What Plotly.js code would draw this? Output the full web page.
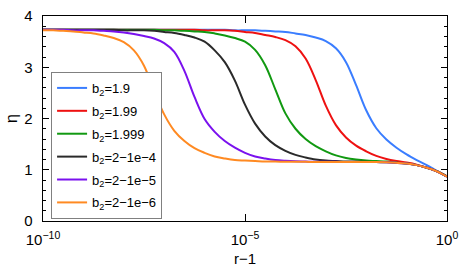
<!DOCTYPE html>
<html>
<head>
<meta charset="utf-8">
<script src="https://cdn.plot.ly/plotly-3.0.1.min.js"></script>
<style>
html,body{margin:0;padding:0;background:#fff;}
#chart{width:463px;height:278px;}
</style>
</head>
<body>
<div id="chart"></div>
<script>
// exponent grid: r-1 = 10^logR
const logR = [-10,-9.75,-9.5,-9.25,-9,-8.75,-8.5,-8.25,-8,-7.75,-7.5,-7.25,-7,-6.75,-6.5,-6.25,-6,-5.75,-5.5,-5.25,-5,-4.75,-4.5,-4.25,-4,-3.75,-3.5,-3.25,-3,-2.75,-2.5,-2.25,-2,-1.75,-1.5,-1.25,-1,-0.75,-0.5,-0.25,0];

const seriesNames = ["b<sub>2</sub>=1.9","b<sub>2</sub>=1.99","b<sub>2</sub>=1.999","b<sub>2</sub>=2\u22121e\u22124","b<sub>2</sub>=2\u22121e\u22125","b<sub>2</sub>=2\u22121e\u22126"];

const etaB19 = [3.73,3.73,3.73,3.73,3.73,3.73,3.73,3.73,3.73,3.73,3.73,3.73,3.73,3.73,3.73,3.73,3.73,
  3.73,3.73,3.72,3.72,3.72,3.71,3.70,3.69,3.66,3.63,3.58,3.51,3.37,3.10,2.65,2.16,1.81,1.59,1.43,1.30,1.19,1.09,0.98,0.87];
const etaB199 = [3.73,3.73,3.73,3.73,3.73,3.73,3.73,3.73,3.73,3.73,3.73,3.73,
  3.73,3.73,3.73,3.73,3.72,3.72,3.72,3.71,3.69,3.67,3.63,3.59,3.53,3.41,3.17,2.75,2.25,1.87,1.63,1.47,1.36,1.27,1.21,1.17,1.14,1.10,1.04,0.97,0.87];
const etaB1999 = [3.73,3.73,3.73,3.73,3.73,3.73,3.73,3.73,
  3.73,3.73,3.73,3.73,3.72,3.72,3.71,3.70,3.69,3.66,3.62,3.57,3.50,3.34,3.04,2.57,2.10,1.80,1.60,1.46,1.36,1.28,1.23,1.20,1.18,1.17,1.16,1.14,1.12,1.09,1.04,0.97,0.87];
const etaB2m4 = [3.73,3.73,3.73,3.73,
  3.73,3.73,3.73,3.73,3.72,3.72,3.72,3.71,3.69,3.67,3.63,3.58,3.50,3.33,3.10,2.74,2.27,1.90,1.65,1.48,1.37,1.29,1.24,1.20,1.18,1.17,1.16,1.16,1.155,1.15,1.145,1.135,1.12,1.09,1.04,0.97,0.865];
const etaB2m5 = [3.73,3.73,3.73,3.72,3.72,3.72,3.71,3.70,3.68,3.65,3.61,3.56,3.47,3.30,2.93,2.42,1.99,1.74,1.56,1.43,1.33,1.26,1.22,1.19,1.175,1.165,1.16,1.155,1.155,1.155,1.15,1.15,1.15,1.15,1.145,1.135,1.12,1.09,1.04,0.97,0.865];
const etaB2m6 = [3.72,3.72,3.71,3.70,3.68,3.66,3.62,3.57,3.49,3.33,3.03,2.54,2.08,1.76,1.56,1.42,1.33,1.26,1.22,1.19,1.18,
  1.17,1.16,1.16,1.155,1.155,1.155,1.15,1.15,1.15,1.15,1.15,1.15,1.15,1.145,1.135,1.12,1.09,1.04,0.97,0.865];

const seriesColors = ["#3a7dff","#ee1111","#119911","#2a2a2a","#7a11ee","#ff8a22"];
const xTickVals = [1e-10, 1e-5, 1];
const xTickText = ["10<sup>\u221210</sup>","10<sup>\u22125</sup>","10<sup>0</sup>"];
const yTickVals = [0, 1, 2, 3, 4];

const rMinus1 = logR.map(e => Math.pow(10, e));
const allEta = [etaB19, etaB199, etaB1999, etaB2m4, etaB2m5, etaB2m6];

const traces = allEta.map((ys, i) => ({
  x: rMinus1, y: ys, type: 'scatter', mode: 'lines',
  name: seriesNames[i], legendgroup: 'g' + i,
  line: {color: seriesColors[i], width: 2, shape: 'spline', smoothing: 1}
}));

const font = {family: 'Liberation Sans, Arial, Helvetica, sans-serif', color: '#000'};

const layout = {
  width: 463, height: 278,
  margin: {l: 43, r: 16, t: 16, b: 57, pad: 0},
  paper_bgcolor: '#fff', plot_bgcolor: '#fff',
  font: Object.assign({size: 13}, font),
  showlegend: true,
  legend: {
    x: 0.02, y: 0.727, xanchor: 'left', yanchor: 'top',
    bgcolor: '#fff', bordercolor: '#808080', borderwidth: 1,
    font: Object.assign({size: 13}, font),
    tracegroupgap: 3
  },
  xaxis: {
    type: 'log', range: [-10, 0],
    tickvals: xTickVals, ticktext: xTickText,
    ticks: 'inside', ticklen: 7, tickwidth: 1, tickcolor: '#000',
    showline: true, linecolor: '#000', linewidth: 1.3, mirror: 'ticks',
    showgrid: false, zeroline: false,
    ticklabelstandoff: 5,
    tickfont: Object.assign({size: 15}, font),
    title: {text: 'r\u22121', font: Object.assign({size: 15}, font), standoff: 6}
  },
  yaxis: {
    range: [0, 4], tickvals: yTickVals,
    ticks: 'inside', ticklen: 6, tickwidth: 1, tickcolor: '#000',
    showline: true, linecolor: '#000', linewidth: 1.3, mirror: 'ticks',
    showgrid: false, zeroline: false,
    ticklabelstandoff: 6,
    minor: {dtick: 0.2, ticks: 'inside', ticklen: 3, tickcolor: '#000', showgrid: false},
    tickfont: Object.assign({size: 15}, font),
    title: {text: '\u03b7', font: Object.assign({size: 16}, font), standoff: 2}
  }
};

Plotly.newPlot('chart', traces, layout, {staticPlot: true, displayModeBar: false});
</script>
</body>
</html>
